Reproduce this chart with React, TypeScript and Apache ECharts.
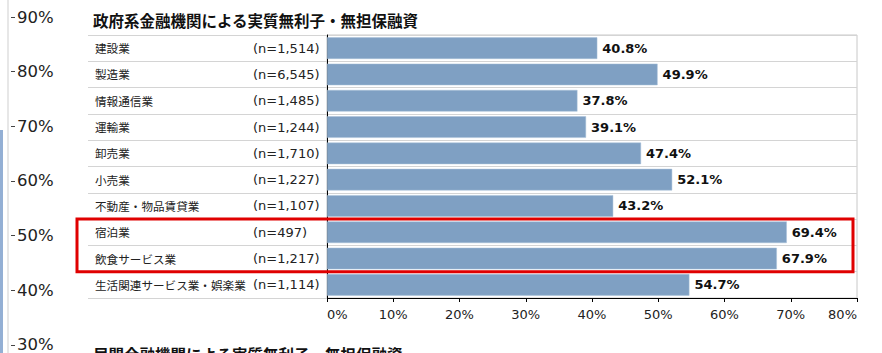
import React, { useEffect, useRef } from 'react';
import * as echarts from 'echarts';

const chartTitle = '政府系金融機関による実質無利子・無担保融資';
const nextChartTitle = '民間金融機関による実質無利子・無担保融資';
const categories = [
  '建設業',
  '製造業',
  '情報通信業',
  '運輸業',
  '卸売業',
  '小売業',
  '不動産・物品賃貸業',
  '宿泊業',
  '飲食サービス業',
  '生活関連サービス業・娯楽業',
];
const sampleSizes = [
  '(n=1,514)',
  '(n=6,545)',
  '(n=1,485)',
  '(n=1,244)',
  '(n=1,710)',
  '(n=1,227)',
  '(n=1,107)',
  '(n=497)',
  '(n=1,217)',
  '(n=1,114)',
];
const values = [40.8, 49.9, 37.8, 39.1, 47.4, 52.1, 43.2, 69.4, 67.9, 54.7];
const highlighted = ['宿泊業', '飲食サービス業'];
const xMin = 0;
const xMax = 80;
const xInterval = 10;
// partially visible axis of a neighbouring chart (left edge of the screenshot)
const bgMin = 30;
const bgMax = 90;
const bgInterval = 10;

const FONT = "'DejaVu Sans', 'Noto Sans CJK JP', sans-serif";
const JP = "'Noto Sans CJK JP', 'DejaVu Sans', sans-serif";

export default function App() {
  const ref = useRef<HTMLDivElement>(null);

  useEffect(() => {
    if (!ref.current) return;
    const chart = echarts.init(ref.current, undefined, { renderer: 'svg' });
    const option: any = {
      animation: false,
      backgroundColor: '#ffffff',
      textStyle: { fontFamily: FONT },
      title: {
        text: chartTitle,
        left: 88,
        top: 7,
        textStyle: { fontFamily: JP, fontSize: 15.5, fontWeight: 'bold', color: '#111' },
      },
      grid: [
        {
          left: 327,
          right: 25,
          top: 35,
          bottom: 55,
          show: true,
          borderColor: '#c8c8c8',
          borderWidth: 1,
          backgroundColor: 'transparent',
        },
        { left: 11, width: 1, top: 17, bottom: 6 },
      ],
      xAxis: [
        {
          gridIndex: 0,
          type: 'value',
          min: xMin,
          max: xMax,
          interval: xInterval,
          axisLine: { show: true, lineStyle: { color: '#000', width: 1 } },
          axisTick: { show: true, length: 4, lineStyle: { color: '#000' } },
          splitLine: { show: false },
          axisLabel: {
            formatter: '{value}%',
            fontSize: 13,
            color: '#222',
            margin: 10,
            fontFamily: FONT,
            alignMinLabel: 'left',
            alignMaxLabel: 'right',
          },
        },
        { gridIndex: 1, type: 'value', show: false, min: 0, max: 1 },
      ],
      yAxis: [
        {
          gridIndex: 0,
          type: 'category',
          data: categories,
          inverse: true,
          axisLine: { show: true, lineStyle: { color: '#000', width: 1 } },
          axisTick: {
            show: true,
            interval: 0,
            length: 239,
            lineStyle: { color: '#d4d4d4' },
          },
          splitLine: { show: true, interval: 0, lineStyle: { color: '#d4d4d4' } },
          axisLabel: {
            align: 'left',
            margin: 232,
            fontSize: 11.6,
            color: '#222',
            fontFamily: JP,
            interval: 0,
          },
        },
        {
          gridIndex: 0,
          type: 'category',
          data: sampleSizes,
          inverse: true,
          position: 'left',
          axisLine: { show: false },
          axisTick: { show: false },
          splitLine: { show: false },
          axisLabel: {
            align: 'left',
            margin: 74,
            fontSize: 13,
            color: '#222',
            fontFamily: FONT,
            interval: 0,
          },
        },
        {
          gridIndex: 1,
          type: 'value',
          min: bgMin,
          max: bgMax,
          interval: bgInterval,
          position: 'right',
          axisLine: { show: false },
          axisTick: { show: true, length: 4, lineStyle: { color: '#444' } },
          splitLine: { show: false },
          axisLabel: {
            formatter: '{value}%',
            fontSize: 16.5,
            color: '#222',
            margin: 5,
            fontFamily: FONT,
          },
        },
      ],
      series: [
        {
          type: 'bar',
          xAxisIndex: 0,
          yAxisIndex: 0,
          data: values,
          barCategoryGap: '18%',
          itemStyle: { color: '#7fa0c3', borderColor: '#a9c0d8', borderWidth: 0.5 },
          label: {
            show: true,
            position: 'right',
            distance: 5,
            formatter: (p: any) => `${Number(p.value).toFixed(1)}%`,
            fontFamily: FONT,
            fontSize: 13,
            fontWeight: 'bold',
            color: '#111',
          },
        },
        {
          type: 'scatter',
          xAxisIndex: 1,
          yAxisIndex: 2,
          data: [],
        },
      ],
      graphic: [
        {
          id: 'bgGrayLine',
          type: 'line',
          shape: { x1: 8, y1: 0, x2: 8, y2: 353 },
          style: { stroke: '#cfcfcf', lineWidth: 1 },
          silent: true,
        },
        {
          id: 'bgBlueLine',
          type: 'line',
          shape: { x1: 1.5, y1: 130, x2: 1.5, y2: 353 },
          style: { stroke: '#93afd4', lineWidth: 3 },
          silent: true,
        },
        {
          id: 'nextTitle',
          type: 'text',
          x: 93,
          y: 346,
          style: {
            text: nextChartTitle,
            fontFamily: JP,
            fontSize: 15.5,
            fontWeight: 'bold',
            fill: '#111',
            verticalAlign: 'top',
          },
          silent: true,
        },
      ],
    };
    chart.setOption(option);

    // red highlight box around the highlighted rows
    const idx = highlighted.map((c) => categories.indexOf(c));
    const first = Math.min(...idx);
    const last = Math.max(...idx);
    const yFirst = chart.convertToPixel({ yAxisIndex: 0 }, first) as number;
    const yNext = chart.convertToPixel({ yAxisIndex: 0 }, first + 1) as number;
    const yLast = chart.convertToPixel({ yAxisIndex: 0 }, last) as number;
    const band = Math.abs(yNext - yFirst);
    const top = Math.min(yFirst, yLast) - band / 2;
    const bottom = Math.max(yFirst, yLast) + band / 2;
    const xRight = (chart.convertToPixel({ xAxisIndex: 0 }, xMax) as number) - 4;
    chart.setOption({
      graphic: [
        {
          id: 'highlight',
          type: 'rect',
          shape: { x: 77, y: top, width: xRight - 77, height: bottom - top },
          style: { fill: 'none', stroke: '#e00000', lineWidth: 3 },
          z: 100,
          silent: true,
        },
      ],
    });

    return () => chart.dispose();
  }, []);

  return (
    <div
      ref={ref}
      style={{ position: 'absolute', left: 0, top: 0, width: 882, height: 353 }}
    />
  );
}
